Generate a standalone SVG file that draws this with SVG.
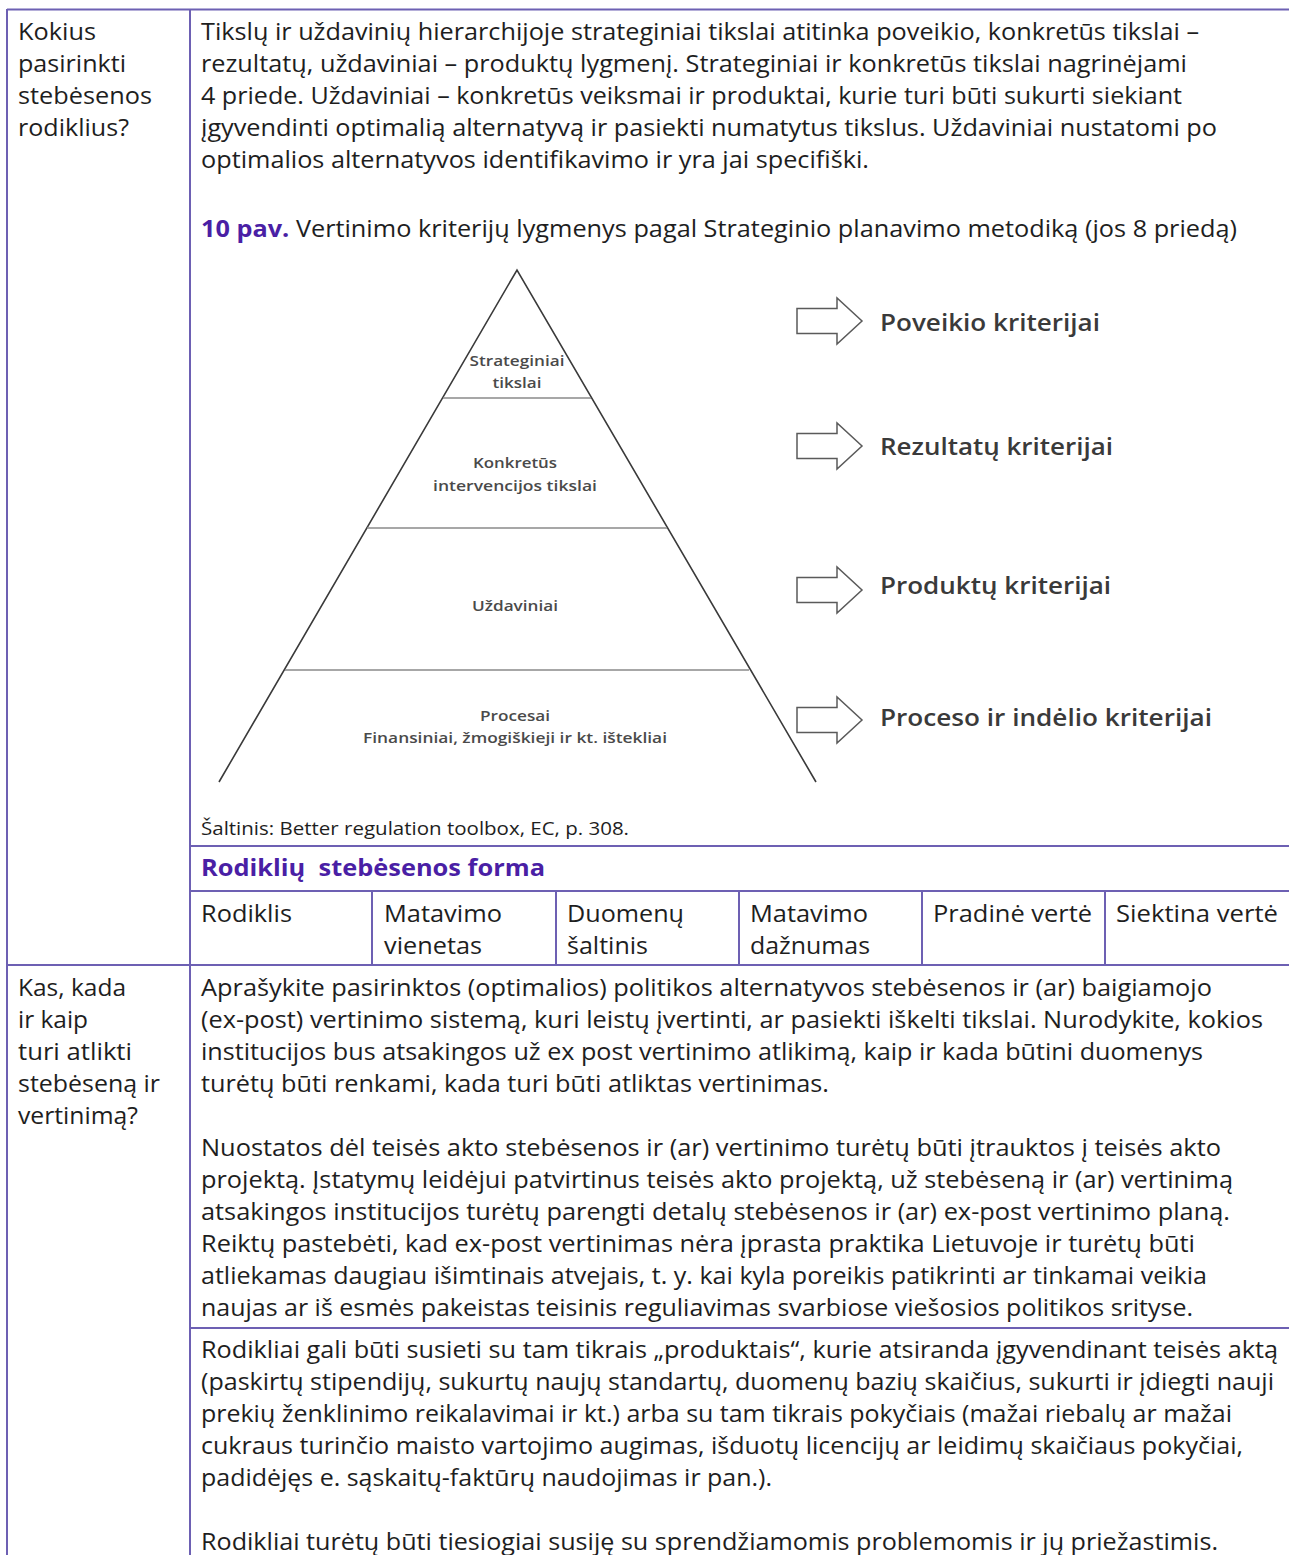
<svg xmlns="http://www.w3.org/2000/svg" width="1289" height="1555" viewBox="0 0 1289 1555">
<style>
.t{font-family:"Open Sans","Noto Sans",sans-serif;font-size:23px;fill:#1e1e1e}
.b{font-family:"Open Sans","Noto Sans",sans-serif;font-weight:700;fill:#4a1fa5}
.s{font-family:"Open Sans","Noto Sans",sans-serif;font-size:19px;fill:#1e1e1e}
.grid{stroke:#6d60b3;stroke-width:2;fill:none}
.pyr{stroke:#3a3a3a;stroke-width:1.6;fill:none}
.lvl{stroke:#8a8a8a;stroke-width:1.6}
.pl{font-family:"Open Sans","Noto Sans",sans-serif;font-size:14px;font-weight:600;fill:#4a4a4a;text-anchor:middle}
.cl{font-family:"Open Sans","Noto Sans",sans-serif;font-size:23px;font-weight:600;fill:#3a3a3a}
.arr{fill:#fff;stroke:#5a5a5a;stroke-width:1.5;stroke-linejoin:miter}
</style>
<defs>
<path id="blk" d="M0,-12.5 H40 V-23 L65,0 L40,23 V12.5 H0 Z"/>
</defs>
<rect width="1289" height="1555" fill="#fff"/>

<g id="table-grid">
<line class="grid" x1="7" y1="9.5" x2="1289" y2="9.5"/>
<line class="grid" x1="7" y1="9" x2="7" y2="1555"/>
<line class="grid" x1="190" y1="9" x2="190" y2="1555"/>
<line class="grid" x1="190" y1="846" x2="1289" y2="846"/>
<line class="grid" x1="190" y1="891" x2="1289" y2="891"/>
<line class="grid" x1="7" y1="965" x2="1289" y2="965"/>
<line class="grid" x1="190" y1="1328" x2="1289" y2="1328"/>
<line class="grid" x1="372" y1="891" x2="372" y2="965"/>
<line class="grid" x1="556" y1="891" x2="556" y2="965"/>
<line class="grid" x1="739" y1="891" x2="739" y2="965"/>
<line class="grid" x1="922" y1="891" x2="922" y2="965"/>
<line class="grid" x1="1105" y1="891" x2="1105" y2="965"/>
</g>

<g id="row1-question">
<text class="t" x="18" y="40" textLength="78" lengthAdjust="spacingAndGlyphs">Kokius</text>
<text class="t" x="18" y="72" textLength="108" lengthAdjust="spacingAndGlyphs">pasirinkti</text>
<text class="t" x="18" y="104" textLength="134" lengthAdjust="spacingAndGlyphs">stebėsenos</text>
<text class="t" x="18" y="136" textLength="111" lengthAdjust="spacingAndGlyphs">rodiklius?</text>
</g>

<g id="row1-text">
<text class="t" x="201" y="40" textLength="998" lengthAdjust="spacingAndGlyphs">Tikslų ir uždavinių hierarchijoje strateginiai tikslai atitinka poveikio, konkretūs tikslai –</text>
<text class="t" x="201" y="72" textLength="986" lengthAdjust="spacingAndGlyphs">rezultatų, uždaviniai – produktų lygmenį. Strateginiai ir konkretūs tikslai nagrinėjami</text>
<text class="t" x="201" y="104" textLength="981" lengthAdjust="spacingAndGlyphs">4 priede. Uždaviniai – konkretūs veiksmai ir produktai, kurie turi būti sukurti siekiant</text>
<text class="t" x="201" y="136" textLength="1016" lengthAdjust="spacingAndGlyphs">įgyvendinti optimalią alternatyvą ir pasiekti numatytus tikslus. Uždaviniai nustatomi po</text>
<text class="t" x="201" y="168" textLength="668" lengthAdjust="spacingAndGlyphs">optimalios alternatyvos identifikavimo ir yra jai specifiški.</text>
<text class="t" x="201" y="237" textLength="1036" lengthAdjust="spacingAndGlyphs"><tspan class="b">10 pav.</tspan> Vertinimo kriterijų lygmenys pagal Strateginio planavimo metodiką (jos 8 priedą)</text>
</g>

<g id="pyramid">
<polyline class="pyr" points="219,782 517,270 816,782"/>
<line class="lvl" x1="443" y1="398" x2="591" y2="398"/>
<line class="lvl" x1="367" y1="528" x2="667" y2="528"/>
<line class="lvl" x1="285" y1="670" x2="749" y2="670"/>
</g>
<g id="level-strateginiai">
<text class="pl" x="517" y="366" textLength="95" lengthAdjust="spacingAndGlyphs">Strateginiai</text>
<text class="pl" x="517" y="388" textLength="49" lengthAdjust="spacingAndGlyphs">tikslai</text>
</g>
<g id="level-konkretus">
<text class="pl" x="515" y="468" textLength="84" lengthAdjust="spacingAndGlyphs">Konkretūs</text>
<text class="pl" x="515" y="491" textLength="164" lengthAdjust="spacingAndGlyphs">intervencijos tikslai</text>
</g>
<g id="level-uzdaviniai">
<text class="pl" x="515" y="611" textLength="86" lengthAdjust="spacingAndGlyphs">Uždaviniai</text>
</g>
<g id="level-procesai">
<text class="pl" x="515" y="721" textLength="70" lengthAdjust="spacingAndGlyphs">Procesai</text>
<text class="pl" x="515" y="743" textLength="304" lengthAdjust="spacingAndGlyphs">Finansiniai, žmogiškieji ir kt. ištekliai</text>
</g>

<g id="connectors">
<use href="#blk" class="arr" x="797" y="321"/>
<use href="#blk" class="arr" x="797" y="446"/>
<use href="#blk" class="arr" x="797" y="590"/>
<use href="#blk" class="arr" x="797" y="720"/>
</g>

<g id="crit-poveikio"><text class="cl" x="880" y="331" textLength="220" lengthAdjust="spacingAndGlyphs">Poveikio kriterijai</text></g>
<g id="crit-rezultatu"><text class="cl" x="880" y="455" textLength="233" lengthAdjust="spacingAndGlyphs">Rezultatų kriterijai</text></g>
<g id="crit-produktu"><text class="cl" x="880" y="594" textLength="231" lengthAdjust="spacingAndGlyphs">Produktų kriterijai</text></g>
<g id="crit-proceso"><text class="cl" x="880" y="726" textLength="332" lengthAdjust="spacingAndGlyphs">Proceso ir indėlio kriterijai</text></g>

<g id="source">
<text class="s" x="201" y="835" textLength="428" lengthAdjust="spacingAndGlyphs">Šaltinis: Better regulation toolbox, EC, p. 308.</text>
</g>

<g id="form-title">
<text class="b" x="201" y="876" font-size="23" style="white-space:pre" textLength="344" lengthAdjust="spacingAndGlyphs">Rodiklių  stebėsenos forma</text>
</g>

<g id="form-header">
<text class="t" x="201" y="922" textLength="91" lengthAdjust="spacingAndGlyphs">Rodiklis</text>
<text class="t" x="384" y="922" textLength="118" lengthAdjust="spacingAndGlyphs">Matavimo</text>
<text class="t" x="384" y="954" textLength="98" lengthAdjust="spacingAndGlyphs">vienetas</text>
<text class="t" x="567" y="922" textLength="117" lengthAdjust="spacingAndGlyphs">Duomenų</text>
<text class="t" x="567" y="954" textLength="81" lengthAdjust="spacingAndGlyphs">šaltinis</text>
<text class="t" x="750" y="922" textLength="118" lengthAdjust="spacingAndGlyphs">Matavimo</text>
<text class="t" x="750" y="954" textLength="120" lengthAdjust="spacingAndGlyphs">dažnumas</text>
<text class="t" x="933" y="922" textLength="159" lengthAdjust="spacingAndGlyphs">Pradinė vertė</text>
<text class="t" x="1116" y="922" textLength="162" lengthAdjust="spacingAndGlyphs">Siektina vertė</text>
</g>

<g id="row2-question">
<text class="t" x="18" y="996" textLength="108" lengthAdjust="spacingAndGlyphs">Kas, kada</text>
<text class="t" x="18" y="1028" textLength="70" lengthAdjust="spacingAndGlyphs">ir kaip</text>
<text class="t" x="18" y="1060" textLength="114" lengthAdjust="spacingAndGlyphs">turi atlikti</text>
<text class="t" x="18" y="1092" textLength="142" lengthAdjust="spacingAndGlyphs">stebėseną ir</text>
<text class="t" x="18" y="1124" textLength="120" lengthAdjust="spacingAndGlyphs">vertinimą?</text>
</g>

<g id="row2-text">
<text class="t" x="201" y="996" textLength="1011" lengthAdjust="spacingAndGlyphs">Aprašykite pasirinktos (optimalios) politikos alternatyvos stebėsenos ir (ar) baigiamojo</text>
<text class="t" x="201" y="1028" textLength="1062" lengthAdjust="spacingAndGlyphs">(ex-post) vertinimo sistemą, kuri leistų įvertinti, ar pasiekti iškelti tikslai. Nurodykite, kokios</text>
<text class="t" x="201" y="1060" textLength="1002" lengthAdjust="spacingAndGlyphs">institucijos bus atsakingos už ex post vertinimo atlikimą, kaip ir kada būtini duomenys</text>
<text class="t" x="201" y="1092" textLength="628" lengthAdjust="spacingAndGlyphs">turėtų būti renkami, kada turi būti atliktas vertinimas.</text>
<text class="t" x="201" y="1156" textLength="1020" lengthAdjust="spacingAndGlyphs">Nuostatos dėl teisės akto stebėsenos ir (ar) vertinimo turėtų būti įtrauktos į teisės akto</text>
<text class="t" x="201" y="1188" textLength="1032" lengthAdjust="spacingAndGlyphs">projektą. Įstatymų leidėjui patvirtinus teisės akto projektą, už stebėseną ir (ar) vertinimą</text>
<text class="t" x="201" y="1220" textLength="1029" lengthAdjust="spacingAndGlyphs">atsakingos institucijos turėtų parengti detalų stebėsenos ir (ar) ex-post vertinimo planą.</text>
<text class="t" x="201" y="1252" textLength="994" lengthAdjust="spacingAndGlyphs">Reiktų pastebėti, kad ex-post vertinimas nėra įprasta praktika Lietuvoje ir turėtų būti</text>
<text class="t" x="201" y="1284" textLength="1006" lengthAdjust="spacingAndGlyphs">atliekamas daugiau išimtinais atvejais, t. y. kai kyla poreikis patikrinti ar tinkamai veikia</text>
<text class="t" x="201" y="1316" textLength="992" lengthAdjust="spacingAndGlyphs">naujas ar iš esmės pakeistas teisinis reguliavimas svarbiose viešosios politikos srityse.</text>
</g>

<g id="row3-text">
<text class="t" x="201" y="1358" textLength="1077" lengthAdjust="spacingAndGlyphs">Rodikliai gali būti susieti su tam tikrais „produktais“, kurie atsiranda įgyvendinant teisės aktą</text>
<text class="t" x="201" y="1390" textLength="1073" lengthAdjust="spacingAndGlyphs">(paskirtų stipendijų, sukurtų naujų standartų, duomenų bazių skaičius, sukurti ir įdiegti nauji</text>
<text class="t" x="201" y="1422" textLength="1031" lengthAdjust="spacingAndGlyphs">prekių ženklinimo reikalavimai ir kt.) arba su tam tikrais pokyčiais (mažai riebalų ar mažai</text>
<text class="t" x="201" y="1454" textLength="1042" lengthAdjust="spacingAndGlyphs">cukraus turinčio maisto vartojimo augimas, išduotų licencijų ar leidimų skaičiaus pokyčiai,</text>
<text class="t" x="201" y="1486" textLength="571" lengthAdjust="spacingAndGlyphs">padidėjęs e. sąskaitų-faktūrų naudojimas ir pan.).</text>
<text class="t" x="201" y="1550" textLength="1017" lengthAdjust="spacingAndGlyphs">Rodikliai turėtų būti tiesiogiai susiję su sprendžiamomis problemomis ir jų priežastimis.</text>
</g>
</svg>
